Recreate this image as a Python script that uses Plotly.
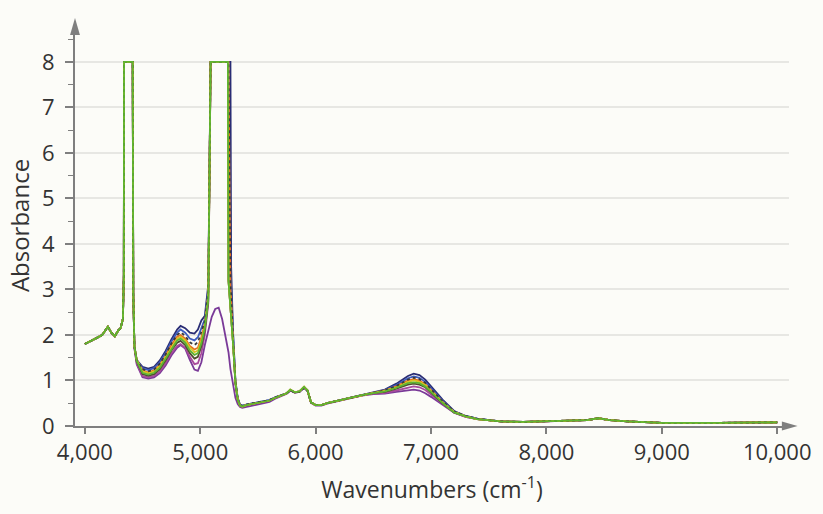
import plotly.graph_objects as go

# Shared wavenumber grid (cm-1)
wavenumbers = [
    4000, 4050, 4100, 4150, 4200, 4230, 4260, 4290, 4310, 4330, 4338, 4340, 4415, 4420, 4430, 4450,
    4500, 4550, 4600, 4650, 4700, 4750, 4800, 4830, 4870, 4910, 4950, 4980, 5010, 5040, 5070, 5090, 5100, 5130, 5160, 5190,
    5240, 5245, 5262, 5268, 5285, 5305, 5325, 5345, 5365, 5400, 5500, 5600, 5650, 5700,
    5750, 5780, 5820, 5860, 5900, 5930, 5960, 6000, 6050, 6100, 6200, 6300, 6400, 6500, 6600, 6700,
    6800, 6850, 6900, 6950, 7000, 7100, 7200, 7300, 7400, 7600, 7800, 8000, 8200, 8350, 8450, 8550, 8700, 8850, 9000, 9500, 10000,
]

navy = [
    1.80, 1.86, 1.93, 2.00, 2.18, 2.05, 1.97, 2.10, 2.15, 2.35, 3.30, 8.00, 8.00, 2.90, 1.75, 1.45,
    1.30, 1.26, 1.30, 1.44, 1.65, 1.90, 2.12, 2.20, 2.15, 2.05, 2.03, 2.12, 2.32, 2.42, 3.10, 8.00, 8.00, 8.00, 8.00, 8.00,
    8.00, 8.00, 8.00, 3.50, 2.00, 1.00, 0.62, 0.47, 0.45, 0.47, 0.52, 0.57, 0.63, 0.68,
    0.72, 0.78, 0.74, 0.75, 0.84, 0.77, 0.52, 0.46, 0.46, 0.50, 0.56, 0.62, 0.68, 0.73, 0.80, 0.93,
    1.10, 1.15, 1.12, 1.02, 0.88, 0.58, 0.33, 0.22, 0.16, 0.10, 0.09, 0.10, 0.11, 0.13, 0.17, 0.13, 0.10, 0.08, 0.07, 0.07, 0.08,
]
blue = [
    1.80, 1.86, 1.93, 2.00, 2.18, 2.05, 1.97, 2.10, 2.15, 2.35, 3.30, 8.00, 8.00, 2.90, 1.75, 1.45,
    1.27, 1.23, 1.27, 1.40, 1.60, 1.85, 2.05, 2.12, 2.05, 1.92, 1.88, 1.95, 2.15, 2.35, 3.00, 8.00, 8.00, 8.00, 8.00, 8.00,
    8.00, 8.00, 3.30, 3.00, 1.90, 0.98, 0.60, 0.46, 0.44, 0.47, 0.52, 0.57, 0.63, 0.68,
    0.72, 0.79, 0.74, 0.76, 0.85, 0.78, 0.52, 0.46, 0.46, 0.50, 0.56, 0.62, 0.68, 0.73, 0.79, 0.90,
    1.05, 1.09, 1.06, 0.97, 0.83, 0.55, 0.32, 0.22, 0.16, 0.10, 0.09, 0.10, 0.11, 0.13, 0.17, 0.13, 0.10, 0.08, 0.07, 0.07, 0.08,
]
orange = [
    1.80, 1.86, 1.93, 2.00, 2.18, 2.05, 1.97, 2.10, 2.15, 2.35, 3.30, 8.00, 8.00, 2.90, 1.75, 1.45,
    1.22, 1.18, 1.22, 1.34, 1.54, 1.78, 1.96, 2.00, 1.92, 1.76, 1.68, 1.72, 1.95, 2.25, 2.90, 8.00, 8.00, 8.00, 8.00, 8.00,
    8.00, 8.00, 3.00, 2.80, 1.85, 0.95, 0.58, 0.45, 0.43, 0.46, 0.51, 0.56, 0.62, 0.67,
    0.72, 0.80, 0.74, 0.76, 0.86, 0.78, 0.52, 0.46, 0.46, 0.50, 0.56, 0.62, 0.68, 0.73, 0.78, 0.87,
    1.00, 1.03, 1.00, 0.92, 0.79, 0.53, 0.31, 0.21, 0.15, 0.10, 0.09, 0.10, 0.11, 0.13, 0.17, 0.13, 0.10, 0.08, 0.07, 0.07, 0.08,
]
yellow = [
    1.80, 1.86, 1.93, 2.00, 2.18, 2.05, 1.97, 2.10, 2.15, 2.35, 3.30, 8.00, 8.00, 2.90, 1.75, 1.45,
    1.20, 1.16, 1.20, 1.32, 1.52, 1.75, 1.92, 1.96, 1.88, 1.72, 1.62, 1.66, 1.88, 2.20, 2.85, 8.00, 8.00, 8.00, 8.00, 8.00,
    8.00, 3.20, 2.60, 2.50, 1.80, 0.95, 0.58, 0.45, 0.43, 0.46, 0.51, 0.56, 0.62, 0.67,
    0.72, 0.80, 0.74, 0.76, 0.86, 0.78, 0.52, 0.46, 0.46, 0.50, 0.56, 0.62, 0.68, 0.73, 0.77, 0.85,
    0.97, 1.00, 0.97, 0.90, 0.77, 0.52, 0.31, 0.21, 0.15, 0.10, 0.09, 0.10, 0.11, 0.13, 0.17, 0.13, 0.10, 0.08, 0.07, 0.07, 0.08,
]
olive = [
    1.80, 1.86, 1.93, 2.00, 2.18, 2.05, 1.97, 2.10, 2.15, 2.35, 3.30, 8.00, 8.00, 2.90, 1.75, 1.42,
    1.14, 1.10, 1.14, 1.25, 1.44, 1.66, 1.83, 1.87, 1.78, 1.60, 1.48, 1.52, 1.75, 2.10, 2.75, 8.00, 8.00, 8.00, 8.00, 8.00,
    8.00, 3.20, 2.60, 2.50, 1.80, 0.95, 0.58, 0.45, 0.43, 0.46, 0.51, 0.56, 0.62, 0.67,
    0.72, 0.79, 0.74, 0.76, 0.85, 0.78, 0.52, 0.46, 0.46, 0.50, 0.56, 0.62, 0.68, 0.72, 0.75, 0.82,
    0.91, 0.93, 0.91, 0.85, 0.73, 0.50, 0.30, 0.21, 0.15, 0.10, 0.09, 0.10, 0.11, 0.13, 0.17, 0.13, 0.10, 0.08, 0.07, 0.07, 0.08,
]
charcoal = [
    1.80, 1.86, 1.93, 2.00, 2.18, 2.05, 1.97, 2.10, 2.15, 2.35, 3.30, 8.00, 8.00, 2.90, 1.74, 1.44,
    1.25, 1.20, 1.24, 1.37, 1.57, 1.81, 2.00, 2.06, 1.98, 1.84, 1.78, 1.84, 2.05, 2.30, 2.95, 8.00, 8.00, 8.00, 8.00, 8.00,
    8.00, 8.00, 3.10, 2.90, 1.88, 0.96, 0.59, 0.46, 0.44, 0.47, 0.52, 0.57, 0.63, 0.68,
    0.72, 0.78, 0.74, 0.75, 0.84, 0.77, 0.52, 0.46, 0.46, 0.50, 0.56, 0.62, 0.68, 0.73, 0.78, 0.88,
    1.02, 1.06, 1.03, 0.95, 0.81, 0.54, 0.32, 0.22, 0.16, 0.10, 0.09, 0.10, 0.11, 0.13, 0.17, 0.13, 0.10, 0.08, 0.07, 0.07, 0.08,
]
magenta = [
    1.80, 1.86, 1.93, 2.00, 2.18, 2.05, 1.97, 2.10, 2.15, 2.35, 3.30, 8.00, 8.00, 2.90, 1.72, 1.38,
    1.10, 1.07, 1.10, 1.20, 1.38, 1.60, 1.76, 1.80, 1.72, 1.52, 1.36, 1.38, 1.60, 2.00, 2.70, 8.00, 8.00, 8.00, 8.00, 8.00,
    8.00, 3.20, 2.60, 2.50, 1.80, 0.95, 0.58, 0.45, 0.43, 0.46, 0.51, 0.56, 0.62, 0.67,
    0.72, 0.79, 0.74, 0.76, 0.85, 0.78, 0.52, 0.46, 0.46, 0.50, 0.56, 0.62, 0.68, 0.71, 0.73, 0.78,
    0.85, 0.87, 0.85, 0.79, 0.69, 0.48, 0.29, 0.20, 0.15, 0.10, 0.09, 0.10, 0.11, 0.13, 0.17, 0.13, 0.10, 0.08, 0.07, 0.07, 0.08,
]
purple = [
    1.80, 1.86, 1.93, 2.00, 2.18, 2.05, 1.97, 2.10, 2.15, 2.35, 3.30, 8.00, 8.00, 2.90, 1.70, 1.35,
    1.07, 1.04, 1.07, 1.16, 1.33, 1.55, 1.72, 1.78, 1.70, 1.45, 1.24, 1.21, 1.40, 1.78, 2.10, 2.30, 2.40, 2.57, 2.60, 2.35,
    1.70, 1.62, 1.25, 1.15, 0.85, 0.62, 0.48, 0.42, 0.40, 0.42, 0.48, 0.53, 0.60, 0.65,
    0.71, 0.78, 0.73, 0.75, 0.84, 0.77, 0.51, 0.45, 0.45, 0.49, 0.55, 0.61, 0.67, 0.70, 0.71, 0.75,
    0.79, 0.80, 0.78, 0.72, 0.64, 0.46, 0.29, 0.20, 0.15, 0.10, 0.09, 0.10, 0.11, 0.13, 0.17, 0.13, 0.10, 0.08, 0.07, 0.07, 0.08,
]
green = [
    1.80, 1.86, 1.93, 2.00, 2.18, 2.05, 1.97, 2.10, 2.15, 2.35, 3.30, 8.00, 8.00, 2.90, 1.75, 1.43,
    1.17, 1.13, 1.17, 1.28, 1.48, 1.71, 1.88, 1.92, 1.83, 1.66, 1.56, 1.60, 1.82, 2.15, 2.80, 8.00, 8.00, 8.00, 8.00, 8.00,
    8.00, 3.20, 2.60, 2.50, 1.80, 0.95, 0.58, 0.45, 0.43, 0.46, 0.51, 0.56, 0.62, 0.67,
    0.72, 0.80, 0.74, 0.76, 0.86, 0.78, 0.52, 0.46, 0.46, 0.50, 0.56, 0.62, 0.68, 0.72, 0.76, 0.84,
    0.94, 0.96, 0.94, 0.87, 0.75, 0.51, 0.30, 0.21, 0.15, 0.10, 0.09, 0.10, 0.11, 0.13, 0.17, 0.13, 0.10, 0.08, 0.07, 0.07, 0.08,
]

# name, values, colour, dash  (drawn in this order; green last, on top)
series = [
    ("navy", navy, "#2a2d74", "solid"),
    ("blue", blue, "#3d5cc0", "solid"),
    ("purple", purple, "#7a3a98", "solid"),
    ("magenta", magenta, "#a84a9c", "solid"),
    ("olive", olive, "#4f4e30", "solid"),
    ("orange", orange, "#e6701e", "solid"),
    ("yellow", yellow, "#d9c423", "solid"),
    ("charcoal", charcoal, "#3a3a3a", "dot"),
    ("green", green, "#5fb532", "solid"),
]

x_ticks = [4000, 5000, 6000, 7000, 8000, 9000, 10000]
x_tick_labels = ["4,000", "5,000", "6,000", "7,000", "8,000", "9,000", "10,000"]
y_ticks = [0, 1, 2, 3, 4, 5, 6, 7, 8]

fig = go.Figure()
for name, vals, col, dash in series:
    fig.add_trace(go.Scatter(x=wavenumbers, y=vals, mode="lines", name=name,
                             line=dict(color=col, width=1.8, dash=dash), showlegend=False))

font_family = "Open Sans, DejaVu Sans, sans-serif"
axis_col = "#7f7f7f"
bg = "#fcfcf8"
txt = "#333333"

fig.update_layout(
    width=823, height=514,
    margin=dict(l=75, r=23, t=25, b=88),
    paper_bgcolor=bg, plot_bgcolor=bg,
    font=dict(family=font_family, color=txt),
    xaxis=dict(
        range=[3915, 10102],
        tickvals=x_ticks, ticktext=x_tick_labels,
        showgrid=False, zeroline=False,
        showline=True, linecolor=axis_col, linewidth=2,
        ticks="outside", ticklen=6, tickwidth=1.5, tickcolor=axis_col,
        tickfont=dict(size=22, color=txt),
        title=dict(text="Wavenumbers (cm<sup>-1</sup>)", font=dict(size=23, color=txt), standoff=16),
    ),
    yaxis=dict(
        range=[0, 8.81],
        tickvals=y_ticks,
        showgrid=True, gridcolor="#e7e7e3", gridwidth=1.5,
        zeroline=False,
        showline=True, linecolor=axis_col, linewidth=2,
        ticks="outside", ticklen=8, tickwidth=1.5, tickcolor=axis_col,
        minor=dict(dtick=0.5, ticks="outside", ticklen=5, tickwidth=1.2, tickcolor=axis_col, showgrid=False),
        tickfont=dict(size=22, color=txt),
        ticklabelstandoff=6,
        title=dict(text="Absorbance", font=dict(size=24, color=txt), standoff=6),
    ),
)

# arrow heads on axes
fig.add_shape(type="path", xref="paper", yref="paper",
              path="M 0 1.0175 L -0.0069 0.975 L 0.0069 0.975 Z",
              fillcolor=axis_col, line=dict(width=0))
fig.add_shape(type="path", xref="paper", yref="paper",
              path="M 1.012 0 L 0.990 0.011 L 0.990 -0.011 Z",
              fillcolor=axis_col, line=dict(width=0))

fig.write_html("out.html")
